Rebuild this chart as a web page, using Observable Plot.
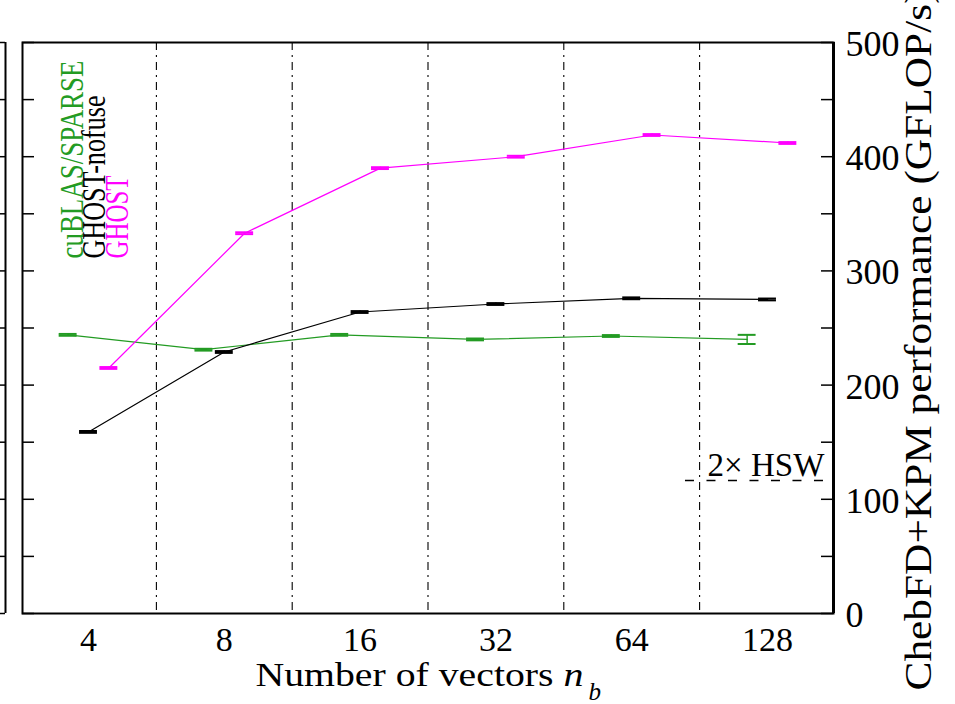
<!DOCTYPE html>
<html><head><meta charset="utf-8">
<script src="https://cdn.jsdelivr.net/npm/d3@7"></script>
<script src="https://cdn.jsdelivr.net/npm/@observablehq/plot@0.6"></script>
<style>html,body{margin:0;padding:0;background:#fff;overflow:hidden}#chart svg{display:block}#chart svg text{font-family:"Liberation Serif","Times New Roman",Tinos,Times,serif !important}</style>
</head><body><div id="chart"></div>
<script>
// ---- data ----
const nb = [4, 8, 16, 32, 64, 128];
const xTickLabels = ["4", "8", "16", "32", "64", "128"];
const seriesNames = ["cuBLAS/SPARSE", "GHOST-nofuse", "GHOST"];
const cublas = [244, 231, 244, 240, 243, 240];
const cublasErr = [0.8, 0.8, 0.8, 0.8, 0.8, 4];
const ghostNofuse = [159, 229, 264, 271, 276, 275];
const ghostNofuseErr = [0.8, 0.8, 0.8, 0.8, 0.8, 0.8];
const ghost = [215, 333, 390, 400, 419, 412];
const ghostErr = [0.8, 0.8, 0.8, 0.8, 0.8, 0.8];
const yTicks = [0, 100, 200, 300, 400, 500];
const yMinorTicks = [0, 50, 100, 150, 200, 250, 300, 350, 400, 450, 500];
const hswLabel = "2× HSW";
const hswLevel = 116.5;
const yLabel = "ChebFD+KPM performance (GFLOP/s)";
const xLabel = "Number of vectors";

// ---- style / layout ----
const colors = ["#239b23", "#000000", "#ff00ff"];
const offsets = [-0.15, 0, 0.15];
const X0 = 1.514, X1 = 7.486;
const plotW = 955 - 22 - 122;
const pxPerUnit = plotW / (X1 - X0);
const capHalf = 0.066;
const font = "'Liberation Serif', 'Times New Roman', Tinos, Times, serif";

const values = [cublas, ghostNofuse, ghost];
const errs = [cublasErr, ghostNofuseErr, ghostErr];
const rows = [];
seriesNames.forEach((s, i) => nb.forEach((n, j) => rows.push({
  s: i, n, x: Math.log2(n) + offsets[i], v: values[i][j], e: errs[i][j]
})));
const gridX = nb.slice(0, -1).map(n => Math.log2(n) + 0.5);

const T = {fontFamily: font, fill: "#000"};
const marks = [
  Plot.ruleX(gridX, {x: d => d, stroke: "#000", strokeWidth: 1.1, strokeDasharray: "8,5,2,5"}),
  Plot.ruleY([hswLevel], {y: d => d, x1: 6.396, x2: 7.42, stroke: "#000", strokeWidth: 1.6, strokeDasharray: "9,12.5"}),
];
seriesNames.forEach((s, i) => {
  const r = rows.filter(d => d.s === i);
  marks.push(
    Plot.line(r, {x: "x", y: "v", stroke: colors[i], strokeWidth: 1.2}),
    Plot.ruleX(r, {x: "x", y1: d => d.v - d.e, y2: d => d.v + d.e, stroke: colors[i], strokeWidth: 1.4}),
    Plot.ruleY(r, {y: d => d.v - d.e, x1: d => d.x - capHalf, x2: d => d.x + capHalf, stroke: colors[i], strokeWidth: 2}),
    Plot.ruleY(r, {y: d => d.v + d.e, x1: d => d.x - capHalf, x2: d => d.x + capHalf, stroke: colors[i], strokeWidth: 2})
  );
});
marks.push(
  Plot.ruleY(yMinorTicks, {y: d => d, x1: X1 - 12 / pxPerUnit, x2: X1, stroke: "#000", strokeWidth: 1.5}),
  Plot.ruleY(yMinorTicks, {y: d => d, x1: X0, x2: X0 + 12 / pxPerUnit, stroke: "#000", strokeWidth: 1.5}),
  Plot.ruleY(yMinorTicks, {y: d => d, x1: X0 - 22 / pxPerUnit, x2: X0 - 17 / pxPerUnit, stroke: "#000", strokeWidth: 1.5}),
  Plot.ruleX([X0 - 17 / pxPerUnit], {x: d => d, y1: 0, y2: 500, stroke: "#000", strokeWidth: 2}),
  Plot.frame({stroke: "#000", strokeWidth: 2}),
  Plot.ruleX([X1], {x: d => d, stroke: "#000", strokeWidth: 3}),
  Plot.text(nb, {...T, x: d => Math.log2(d), text: (d, i) => xTickLabels[i], frameAnchor: "bottom", lineAnchor: "bottom", dy: 37, fontSize: 34}),
  Plot.text(yTicks, {...T, y: d => d, text: d => String(d), frameAnchor: "right", textAnchor: "start", lineAnchor: "middle", dx: 12, dy: 2, fontSize: 36}),
  Plot.text([yLabel], {...T, text: d => d, frameAnchor: "bottom-right", dx: 97, dy: 77, rotate: -90, textAnchor: "start", lineAnchor: "bottom", fontSize: 38}),
  Plot.text([xLabel], {...T, text: d => d, frameAnchor: "bottom-left", dx: 233, dy: 72, textAnchor: "start", lineAnchor: "bottom", fontSize: 33}),
  Plot.text(["n"], {...T, text: d => d, frameAnchor: "bottom-left", dx: 541, dy: 72, textAnchor: "start", lineAnchor: "bottom", fontSize: 33, fontStyle: "italic"}),
  Plot.text(["b"], {...T, text: d => d, frameAnchor: "bottom-left", dx: 566, dy: 86, textAnchor: "start", lineAnchor: "bottom", fontSize: 25, fontStyle: "italic"}),
  Plot.text([hswLabel], {...T, text: d => d, frameAnchor: "top-left", dx: 685, dy: 433, textAnchor: "start", lineAnchor: "bottom", fontSize: 34})
);
const legendDx = [60, 82, 105];
seriesNames.forEach((s, i) => marks.push(
  Plot.text([s], {...T, text: d => d, frameAnchor: "top-left", dx: legendDx[i], dy: 216, rotate: -90, textAnchor: "start", lineAnchor: "bottom", fontSize: 34, fill: colors[i]})
));

const chart = Plot.plot({
  width: 955, height: 704,
  marginLeft: 22, marginRight: 122, marginTop: 42, marginBottom: 91,
  style: {fontFamily: font, background: "#fff"},
  x: {type: "linear", domain: [X0, X1], axis: null},
  y: {type: "linear", domain: [0, 500], axis: null},
  marks
});

const lengths = {
  "cuBLAS/SPARSE": 198, "GHOST-nofuse": 163, "GHOST": 83,
  [yLabel]: 701, [xLabel]: 298, "n": 20, [hswLabel]: 117
};
d3.select(chart).selectAll("text").each(function () {
  const L = lengths[this.textContent];
  if (L) { this.setAttribute("textLength", L); this.setAttribute("lengthAdjust", "spacingAndGlyphs"); }
});
document.getElementById("chart").appendChild(chart);
</script></body></html>
